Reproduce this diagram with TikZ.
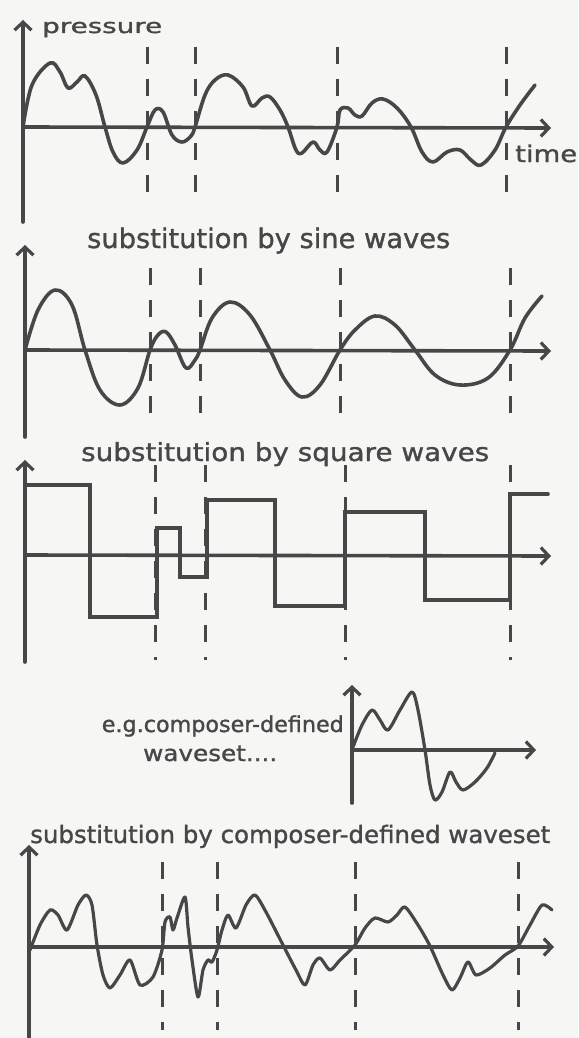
\documentclass[tikz,border=0pt]{standalone}
\usepackage{fontspec}
\setmainfont{DejaVu Sans}[FakeBold=1.2]
\usetikzlibrary{arrows.meta}
\definecolor{inkc}{HTML}{474747}
\definecolor{paper}{HTML}{F6F6F4}
\newcommand{\hwtext}[3]{{\fontsize{#1}{#1}\selectfont\resizebox{#2}{\height}{#3}}}
\begin{document}
\begin{tikzpicture}[x=1pt,y=-1pt,line cap=round,line join=round,
  ink/.style={draw=inkc,line width=3.6pt},
  axis/.style={ink,-{Straight Barb[length=8pt,width=17pt,line width=3.2pt]}},
  guide/.style={draw=inkc,line width=3pt,dash pattern=on 17pt off 15pt,line cap=butt},
  wave/.style={ink,line width=3.6pt},
  lbl/.style={text=inkc,inner sep=0pt}]
\fill[paper] (0,0) rectangle (578,1038);
\useasboundingbox (0,0) rectangle (578,1038);

% ---------- panel 1 ----------
\coordinate (a1b) at (23,222); \coordinate (a1t) at (23,20);
\coordinate (h1l) at (23,127); \coordinate (h1r) at (551,128);
\draw[axis] (a1b) -- (a1t);
\draw[axis] (h1l) -- (h1r);
\node[lbl,anchor=base west] (pres) at (42,33) {\hwtext{20}{120pt}{pressure}};
\node[lbl,anchor=base west] (time) at (515,162) {\hwtext{23}{62pt}{time}};
\foreach \x in {147,195,337,506} \draw[guide] (\x,47) -- (\x,200);
\draw[wave] plot[smooth,tension=0.6] coordinates {(23,127) (32,85) (50,63) (60,72) (68,88) (77,82) (85,76) (96,95) (105,127) (113,152) (123,163) (137,150) (147,127) (155,110) (163,112) (172,135) (182,142) (191,136) (195,127) (205,95) (215,80) (228,75) (243,87) (252,106) (262,98) (270,97) (280,110) (288,127) (296,150) (302,153) (313,142) (320,150) (327,152) (337,127) (340,110) (348,108) (355,115) (362,116) (372,103) (383,99) (397,108) (411,127) (422,152) (433,162) (447,152) (460,150) (471,160) (481,165) (495,150) (506,127) (520,105) (535,85)};

% ---------- panel 2 ----------
\node[lbl,anchor=base west] (t2) at (87,248) {\hwtext{27}{363pt}{substitution by sine waves}};
\coordinate (a2b) at (25,437); \coordinate (a2t) at (25,245);
\coordinate (h2l) at (25,350); \coordinate (h2r) at (551,351);
\draw[axis] (a2b) -- (a2t);
\draw[axis] (h2l) -- (h2r);
\foreach \x in {150,200,340,510} \draw[guide] (\x,268) -- (\x,415);
\draw[wave] plot[smooth,tension=0.6] coordinates {(25,350) (38,310) (55,290) (72,305) (85,350) (100,390) (120,405) (138,388) (150,350) (158,335) (166,332) (175,345) (186,368) (195,360) (200,350) (212,318) (230,302) (250,315) (270,350) (285,380) (302,397) (320,385) (340,350) (355,330) (375,316) (395,325) (415,350) (435,375) (460,385) (488,378) (510,350) (525,318) (542,296)};

% ---------- panel 3 ----------
\node[lbl,anchor=base west] (t3) at (81,461) {\hwtext{25}{408pt}{substitution by square waves}};
\coordinate (a3b) at (25,662); \coordinate (a3t) at (25,460);
\coordinate (h3l) at (25,555); \coordinate (h3r) at (551,556);
\draw[axis] (a3b) -- (a3t);
\draw[axis] (h3l) -- (h3r);
\foreach \x in {155,205,345,510} \draw[guide] (\x,465) -- (\x,660);
\draw[wave,line join=miter] (25,485) -- (90,485) -- (90,617) -- (157,617) -- (157,528) -- (180,528) -- (180,577) -- (207,577) -- (207,500) -- (275,500) -- (275,606) -- (345,606) -- (345,512) -- (425,512) -- (425,600) -- (510,600) -- (510,494) -- (548,494);

% ---------- panel 4 ----------
\node[lbl,anchor=base east] (eg1) at (344,732) {\hwtext{22}{242pt}{e.g.composer-defined}};
\node[lbl,anchor=base west] (eg2) at (143,761) {\hwtext{22}{134pt}{waveset....}};
\coordinate (a4b) at (352,803); \coordinate (a4t) at (352,685);
\coordinate (h4l) at (352,750); \coordinate (h4r) at (536,750);
\draw[axis] (a4b) -- (a4t);
\draw[axis] (h4l) -- (h4r);
\draw[wave,line width=3.2pt] plot[smooth,tension=0.5] coordinates {(353,747) (362,725) (372,710) (380,720) (388,730) (400,710) (412,692) (418,710) (425,750) (430,785) (435,800) (442,792) (450,772) (456,782) (463,790) (475,782) (487,768) (495,753)};

% ---------- panel 5 ----------
\node[lbl,anchor=base west] (t5) at (30,843) {\hwtext{24}{520pt}{substitution by composer-defined waveset}};
\coordinate (a5b) at (29,1040); \coordinate (a5t) at (29,845);
\coordinate (h5l) at (29,947); \coordinate (h5r) at (554,947);
\draw[axis] (a5b) -- (a5t);
\draw[axis] (h5l) -- (h5r);
\foreach \x in {162,217,355,518} \draw[guide] (\x,862) -- (\x,1030);
\draw[wave,line width=3.2pt] plot[smooth,tension=0.45] coordinates {(30,950) (40,925) (50,910) (58,915) (67,930) (78,905) (86,895) (92,905) (97,945) (103,975) (110,988) (120,975) (130,960) (140,985) (153,977) (162,950) (165,922) (170,917) (173,930) (177,918) (185,897) (188,927) (192,960) (198,997) (203,970) (208,960) (212,962) (217,950) (222,930) (228,915) (236,928) (246,905) (255,895) (266,912) (283,945) (296,970) (305,985) (313,965) (320,958) (330,970) (340,960) (355,945) (365,928) (375,918) (388,922) (397,915) (405,907) (418,925) (430,946) (443,975) (452,990) (460,978) (468,962) (476,975) (490,968) (505,955) (518,946) (530,925) (542,905) (552,910)};
\end{tikzpicture}
\end{document}
